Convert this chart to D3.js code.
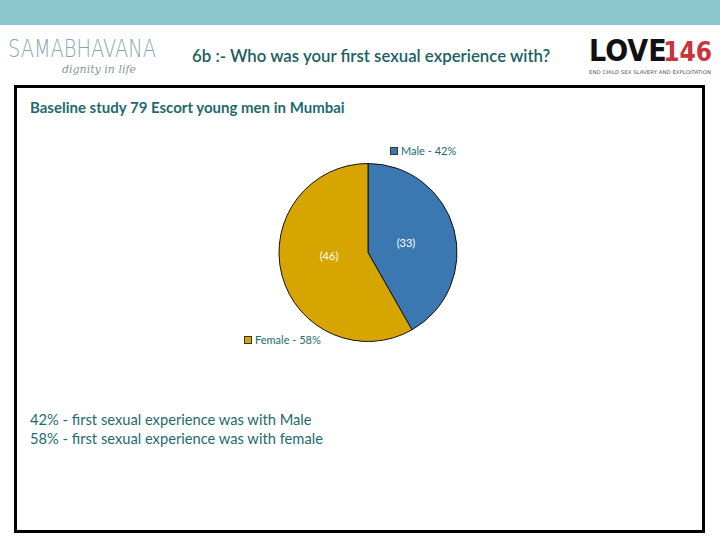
<!DOCTYPE html>
<html><head><meta charset="utf-8">
<script src="https://cdn.jsdelivr.net/npm/d3@7"></script>
<style>body{margin:0;background:#fff}svg{display:block}</style>
</head><body>
<svg id="c" width="720" height="540"></svg>
<script>
const categories = ["Male", "Female"];
const counts = [33, 46];
const percents = [42, 58];
const colors = ["#3b78b1", "#d7a500"];
const noteLines = ["42% - first sexual experience was with Male", "58%  - first sexual experience was with female"];

const svg = d3.select("#c");
const teal = "#1f6a6e";
const font = "Lato, 'Open Sans', sans-serif";

svg.append("rect").attr("x",0).attr("y",0).attr("width",720).attr("height",25).attr("fill","#8cc6cf");

// Samabhavana logo (text)
svg.append("text").attr("x",8).attr("y",57).attr("font-family","'DejaVu Sans', sans-serif")
  .attr("font-size",25).attr("font-weight",200).attr("fill","#8aa7ad").attr("textLength",148)
  .attr("lengthAdjust","spacingAndGlyphs").text("SAMABHAVANA");
svg.append("text").attr("x",62).attr("y",73).attr("font-family","'DejaVu Serif', serif")
  .attr("font-style","italic").attr("font-size",11).attr("fill","#8a9799").text("dignity in life");

// Love146 logo
svg.append("text").attr("x",589).attr("y",61).attr("font-family","'DejaVu Sans Condensed', sans-serif")
  .attr("font-weight","bold").attr("font-size",30).attr("fill","#111").text("LOVE");
svg.append("text").attr("x",712).attr("y",61).attr("text-anchor","end").attr("font-family","'DejaVu Sans Condensed', sans-serif")
  .attr("font-weight","bold").attr("font-size",26).attr("fill","#c8343a").text("146");
svg.append("text").attr("x",589).attr("y",74).attr("font-family","'DejaVu Sans', sans-serif")
  .attr("font-size",5).attr("fill","#555").attr("textLength",122)
  .attr("lengthAdjust","spacingAndGlyphs").text("END CHILD SEX SLAVERY AND EXPLOITATION");

// Title
svg.append("text").attr("x",192).attr("y",62).attr("font-family",font).attr("font-size",16.8)
  .attr("font-weight",600).attr("fill","#1b5f63").text("6b :- Who was your first sexual experience with?");

// Frame
svg.append("rect").attr("x",15.5).attr("y",86.5).attr("width",688).attr("height",445)
  .attr("fill","none").attr("stroke","#000").attr("stroke-width",3);

svg.append("text").attr("x",30).attr("y",113).attr("font-family",font).attr("font-size",15)
  .attr("font-weight","bold").attr("fill",teal).text("Baseline study 79 Escort young men in Mumbai");

// Pie
const cx = 368, cy = 252.5, r = 89;
const pie = d3.pie().sort(null).value(d => d)(counts);
const arc = d3.arc().innerRadius(0).outerRadius(r);
const g = svg.append("g").attr("transform",`translate(${cx},${cy})`);
g.selectAll("path").data(pie).join("path").attr("d",arc)
  .attr("fill",(d,i)=>colors[i]).attr("stroke","#111").attr("stroke-width",1);
const labelPos = [[38,-10],[-39,3]];
g.selectAll("text.v").data(pie).join("text").attr("class","v")
  .attr("x",(d,i)=>labelPos[i][0]).attr("y",(d,i)=>labelPos[i][1]+4)
  .attr("text-anchor","middle").attr("font-family",font).attr("font-size",11)
  .attr("fill","#fff").text(d=>`(${d.data})`);

// Legend labels
const legPos = [[390,147],[244,336]];
categories.forEach((c,i)=>{
  svg.append("rect").attr("x",legPos[i][0]+0.5).attr("y",legPos[i][1]+0.5).attr("width",7).attr("height",7)
    .attr("fill",colors[i]).attr("stroke","#333").attr("stroke-width",1);
  svg.append("text").attr("x",legPos[i][0]+11).attr("y",legPos[i][1]+8).attr("font-family",font)
    .attr("font-size",11).attr("fill",teal).text(`${c} - ${percents[i]}%`);
});

// Notes
noteLines.forEach((t,i)=>{
  svg.append("text").attr("x",30).attr("y",425+i*19).attr("font-family",font).attr("font-size",14.7)
    .attr("fill",teal).text(t);
});
</script>
</body></html>
